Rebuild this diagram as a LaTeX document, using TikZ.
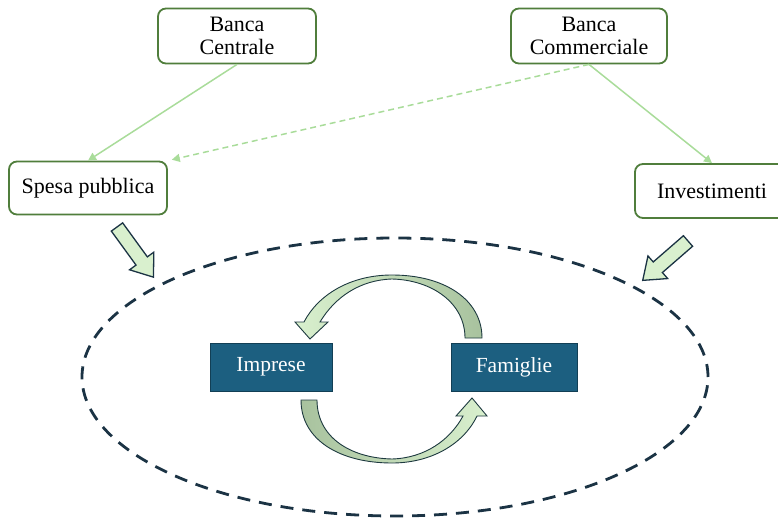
\documentclass[tikz,border=0pt]{standalone}
\usepackage{fontspec}
\setmainfont{Liberation Serif}
\usetikzlibrary{arrows.meta}
\definecolor{boxgreen}{HTML}{507E3C}
\definecolor{linkgreen}{HTML}{A9DC9A}
\definecolor{navy}{HTML}{1B3344}
\definecolor{tealfill}{HTML}{1C5F80}
\definecolor{tealdraw}{HTML}{123F55}
\definecolor{arrlight}{HTML}{D9F0CE}
\definecolor{arrdark}{HTML}{A8C29E}
\definecolor{arredge}{HTML}{1E3A40}
\tikzset{
  bank/.style={draw=boxgreen, line width=1.8pt, rounded corners=8pt, fill=white,
    align=center, font=\fontsize{22}{23}\selectfont, inner sep=0pt},
  sector/.style={draw=tealdraw, line width=0.8pt, fill=tealfill, text=white,
    font=\fontsize{21.5}{23}\selectfont, inner sep=0pt},
  link/.style={draw=linkgreen, line width=1.5pt, -{Triangle[length=8pt,width=8pt]}},
  blockarr/.style={draw=navy, line width=1.3pt, fill=arrlight, line join=miter},
  curvarr/.style={draw=arredge, line width=0.9pt},
}
\begin{document}
\begin{tikzpicture}[x=1pt,y=-1pt]
\useasboundingbox (0,0) rectangle (778,521);

% boxes
\node[bank, minimum width=158pt, minimum height=55pt] (bc) at (237,36) {Banca\\Centrale};
\node[bank, minimum width=156pt, minimum height=55pt] (bm) at (589,36) {Banca\\Commerciale};
\node[bank, minimum width=158pt, minimum height=53pt] (sp) at (88,188) {Spesa pubblica};
\node[bank, minimum width=154pt, minimum height=54pt] (inv) at (712,191) {Investimenti};

% connectors
\draw[link] (bc.south) -- (sp.north);
\draw[link] (bm.south) -- (inv.north);
\draw[link, dash pattern=on 6pt off 4pt, shorten >=4pt] (bm.south) -- (sp.north east);

% dashed ellipse
\draw[navy, line width=2.8pt, dash pattern=on 13pt off 9pt] (395,377) ellipse [x radius=313pt, y radius=139pt];

% block arrows
\begin{scope}[shift={(117,227)}, rotate=-54]
  \path[blockarr] (0,-7) -- (42,-7) -- (42,-15) -- (62,0) -- (42,15) -- (42,7) -- (0,7) -- cycle;
\end{scope}
\begin{scope}[shift={(688,241)}, rotate=-139]
  \path[blockarr] (0,-7) -- (40,-7) -- (40,-15) -- (60,0) -- (40,15) -- (40,7) -- (0,7) -- cycle;
\end{scope}

% sector nodes
\node[sector, minimum width=122pt, minimum height=48pt] (imp) at (271,367) {Imprese};
\node[sector, minimum width=126pt, minimum height=48pt] (fam) at (514,367) {Famiglie};

% curved arrows
\path[curvarr, left color=arrlight, right color=arrdark]
  (482,338) .. controls (482,300) and (445,275) .. (392,275)
  .. controls (350,275) and (318,295) .. (304,322)
  -- (295,322) -- (310,339) -- (328,322) -- (320,322)
  .. controls (335,297) and (360,280) .. (392,279)
  .. controls (432,280) and (465,303) .. (465,338) -- cycle;
\path[curvarr, left color=arrdark, right color=arrlight]
  (301,400) .. controls (301,440) and (340,463) .. (392,463)
  .. controls (430,463) and (463,445) .. (477,416)
  -- (487,416) -- (472,398) -- (456,416) -- (463,416)
  .. controls (450,440) and (425,458) .. (392,459)
  .. controls (350,458) and (317,437) .. (317,400) -- cycle;
\end{tikzpicture}
\end{document}
